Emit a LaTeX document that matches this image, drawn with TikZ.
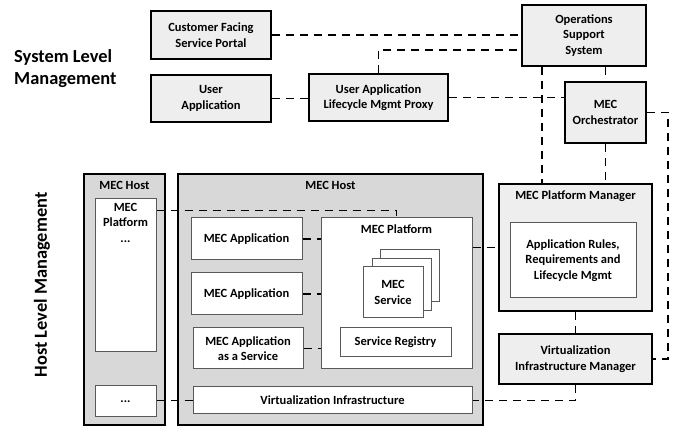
\documentclass[tikz,border=0pt]{standalone}
\usepackage{fontspec}
\setmainfont{Carlito}
\begin{document}
\begin{tikzpicture}[x=1pt,y=-1pt,
  base/.style={font=\fontsize{12.5}{15.5}\selectfont\bfseries, align=center, inner sep=0pt, anchor=center},
  sysbox/.style={base, draw=black, line width=1.9pt, fill=sysgray},
  hostbox/.style={base, draw=black, line width=1.9pt, fill=hostgray},
  inbox/.style={base, draw=black!65, line width=1pt, fill=white},
  conn/.style={line width=1.9pt, dash pattern=on 8pt off 6pt},
  big/.style={font=\fontsize{18.4}{22}\selectfont\bfseries, inner sep=0pt}
]
\definecolor{sysgray}{HTML}{EEEEEE}
\definecolor{hostgray}{HTML}{D8D8D8}
\useasboundingbox (0,0) rectangle (681,430);

% side labels
\node[big, align=left, anchor=west] (sl) at (14,69) {System Level\\Management};
\node[big, rotate=90] (hl) at (42,285) {Host Level Management};

% system level
\node[sysbox, minimum width=120pt, minimum height=48pt] (csp) at (211,35) {Customer Facing\\Service Portal};
\node[sysbox, minimum width=120pt, minimum height=47pt] (ua) at (211,98.5) {User\\Application};
\node[sysbox, minimum width=139pt, minimum height=47pt] (ualmp) at (378.5,97.5) {User Application\\Lifecycle Mgmt Proxy};
\node[sysbox, minimum width=124pt, minimum height=61pt] (oss) at (584,35.5) {Operations\\Support\\System};
\node[sysbox, minimum width=81pt, minimum height=61pt] (meo) at (605.5,112.5) {MEC\\Orchestrator};

% platform manager & VIM
\node[sysbox, minimum width=153pt, minimum height=127pt] (mepm) at (575.5,247.5) {};
\node[base] (mepmt) at (575.5,196) {MEC Platform Manager};
\node[inbox, minimum width=126pt, minimum height=75pt] (arl) at (573,260.5) {Application Rules,\\Requirements and\\Lifecycle Mgmt};
\node[sysbox, minimum width=153pt, minimum height=50pt] (vim) at (575.5,359) {Virtualization\\Infrastructure Manager};

% host 1
\node[hostbox, minimum width=81pt, minimum height=251pt] (host1) at (124.5,299.5) {};
\node[base] (host1t) at (124.5,185) {MEC Host};
\node[inbox, minimum width=61pt, minimum height=153pt] (mp1) at (125.5,275.5) {};
\node[base, anchor=north] (mp1t) at (125.5,203) {MEC\\Platform\\...};
\node[inbox, minimum width=61pt, minimum height=31pt] (dots1) at (125.5,401.5) {...};

% host 2
\node[hostbox, minimum width=305pt, minimum height=251pt] (host2) at (330.5,299.5) {};
\node[base] (host2t) at (330.5,185) {MEC Host};
\node[inbox, minimum width=111pt, minimum height=42pt] (app1) at (246.5,239) {MEC Application};
\node[inbox, minimum width=111pt, minimum height=42pt] (app2) at (246.5,294) {MEC Application};
\node[inbox, minimum width=110pt, minimum height=41pt] (app3) at (248,348.5) {MEC Application\\as a Service};
\node[inbox, minimum width=151pt, minimum height=151pt] (mp2) at (396.5,293.5) {};
\node[base] (mp2t) at (396.5,229) {MEC Platform};
\node[inbox, minimum width=59pt, minimum height=52pt] (svc3) at (409.5,276) {};
\node[inbox, minimum width=59pt, minimum height=52pt] (svc2) at (401.5,284.5) {};
\node[inbox, minimum width=60pt, minimum height=51pt] (svc1) at (393,292.5) {MEC\\Service};
\node[inbox, minimum width=111pt, minimum height=29pt] (sr) at (395.5,342.5) {Service Registry};
\node[inbox, minimum width=279pt, minimum height=27pt] (vi) at (332.5,400.5) {Virtualization Infrastructure};

% connectors
\draw[conn] (csp.east) -- (csp.east -| oss.west);
\draw[conn] (ualmp.north) |- ([yshift=-14.5pt]oss.west);
\draw[conn] (ua.east) -- (ua.east -| ualmp.west);
\draw[conn] (ualmp.east) -- (ualmp.east -| meo.west);
\draw[conn] ([xshift=21pt]oss.south west) -- ([xshift=21pt]oss.south west |- mepm.north);
\draw[conn] (meo.north |- oss.south) -- (meo.north);
\draw[conn] (meo.south) -- (meo.south |- mepm.north);
\coordinate (rt) at (668,112.5);
\draw[conn] (meo.east) -- (rt) |- (vim.east);
\draw[conn] (mepm.west -| mp2.east) -- (mepm.west);
\draw[conn] (mepm.south) -- (vim.north);
\draw[conn] (vim.south) |- (vi.east);
\draw[conn] ([yshift=-12pt]mp1.north east) -| (mp2.north);
\draw[conn] (dots1.east |- vi.west) -- (vi.west);
\draw[conn] (app1.east) -- (app1.east -| mp2.west);
\draw[conn] (app2.east) -- (app2.east -| mp2.west);
\draw[conn] (app3.east) -- (app3.east -| mp2.west);
\end{tikzpicture}
\end{document}
